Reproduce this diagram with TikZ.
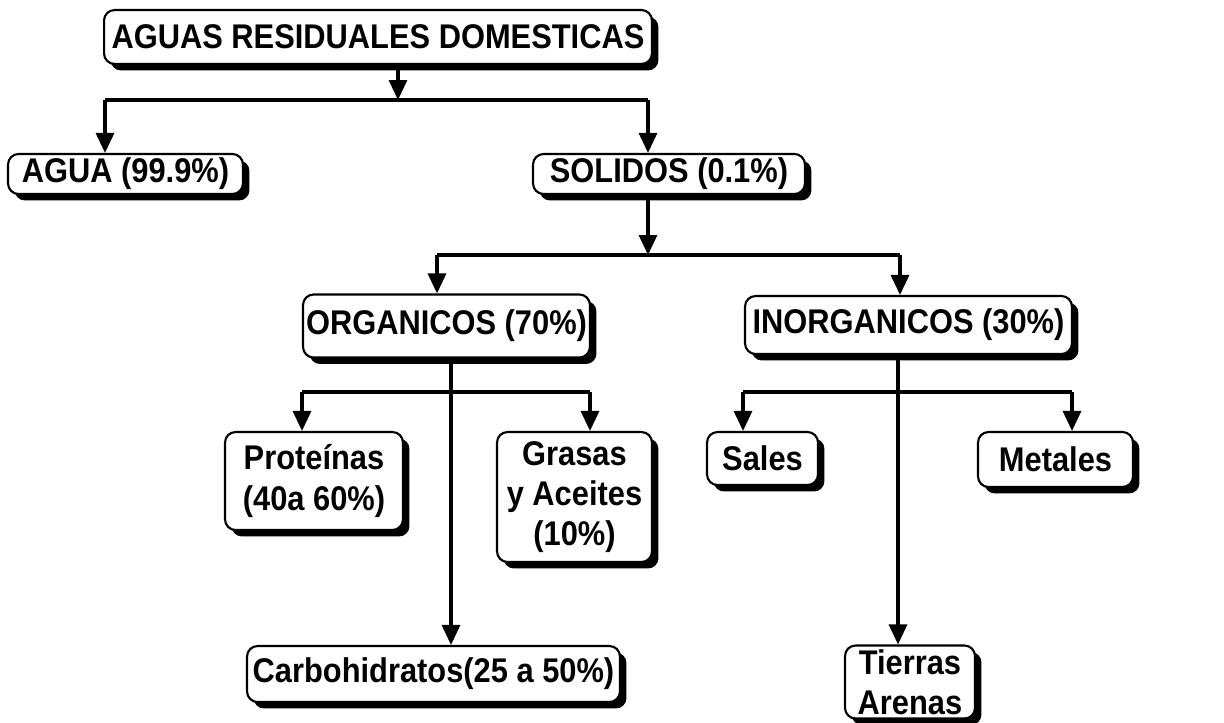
\documentclass[tikz,border=0pt]{standalone}
\usepackage{fontspec}
\setmainfont[FakeStretch=0.9]{Liberation Sans}
\usepackage{tikz}
\usetikzlibrary{arrows.meta, shadows}
\tikzstyle{box} = [rectangle, rounded corners=6pt, draw=black, line width=1.2pt, fill=white, text centered, align=center, inner sep=0pt, font=\fontsize{19.5}{23}\selectfont\bfseries, drop shadow={shadow xshift=0.13cm, shadow yshift=-0.13cm, fill=black, opacity=1}]
\tikzstyle{line} = [line width=1.8pt]
\tikzstyle{arrow} = [line width=1.8pt, -{Triangle[width=0.36cm, length=0.4cm]}]

\begin{document}
\begin{tikzpicture}[x=0.02cm, y=-0.02cm]
	\useasboundingbox (0,0) rectangle (1224,723);
	% boxes
	\node (aguas) [box, minimum width=10.96cm, minimum height=1.08cm] at (378,37) {AGUAS RESIDUALES DOMESTICAS};
	\node (agua) [box, minimum width=4.7cm, minimum height=0.8cm] at (125.5,174) {AGUA (99.9\%)};
	\node (solidos) [box, minimum width=5.44cm, minimum height=0.8cm] at (669,174) {SOLIDOS (0.1\%)};
	\node (org) [box, minimum width=5.74cm, minimum height=1.26cm] at (446.5,326) {ORGANICOS (70\%)};
	\node (inorg) [box, minimum width=6.54cm, minimum height=1.16cm] at (908.5,325) {INORGANICOS (30\%)};
	\node (prot) [box, minimum width=3.56cm, minimum height=1.96cm] at (314,481) {Proteínas\\(40a 60\%)};
	\node (grasas) [box, minimum width=3.1cm, minimum height=2.6cm] at (574.5,497) {Grasas\\y Aceites\\(10\%)};
	\node (carbo) [box, minimum width=7.46cm, minimum height=1.12cm] at (433.5,674) {Carbohidratos(25 a 50\%)};
	\node (sales) [box, minimum width=2.22cm, minimum height=1.06cm] at (762.5,458.5) {Sales};
	\node (metales) [box, minimum width=3.1cm, minimum height=1.1cm] at (1055.5,459.5) {Metales};
	\node (tierras) [box, minimum width=2.6cm, minimum height=1.46cm] at (910,682) {Tierras\\Arenas};
	% branch points
	\coordinate (split1) at (398,100);
	\coordinate (split2) at (648,255);
	\coordinate (split3) at (451,392);
	\coordinate (split4) at (898,392);
	% level 1
	\draw [arrow] (aguas.south -| split1) -- (split1);
	\draw [line] (105,100) coordinate (l1) -- (648,100) coordinate (r1);
	\draw [arrow] (l1) -- (l1 |- agua.north);
	\draw [arrow] (r1) -- (r1 |- solidos.north);
	% level 2
	\draw [arrow] (solidos.south -| split2) -- (split2);
	\draw [line] (437,255) coordinate (l2) -- (900,255) coordinate (r2);
	\draw [arrow] (l2) -- (l2 |- org.north);
	\draw [arrow] (r2) -- (r2 |- inorg.north);
	% organicos
	\draw [arrow] (org.south -| split3) -- (split3 |- carbo.north);
	\draw [line] (302,392) coordinate (l3) -- (590,392) coordinate (r3);
	\draw [arrow] (l3) -- (l3 |- prot.north);
	\draw [arrow] (r3) -- (r3 |- grasas.north);
	% inorganicos
	\draw [arrow] (inorg.south -| split4) -- (split4 |- tierras.north);
	\draw [line] (743,392) coordinate (l4) -- (1072,392) coordinate (r4);
	\draw [arrow] (l4) -- (l4 |- sales.north);
	\draw [arrow] (r4) -- (r4 |- metales.north);
\end{tikzpicture}
\end{document}
